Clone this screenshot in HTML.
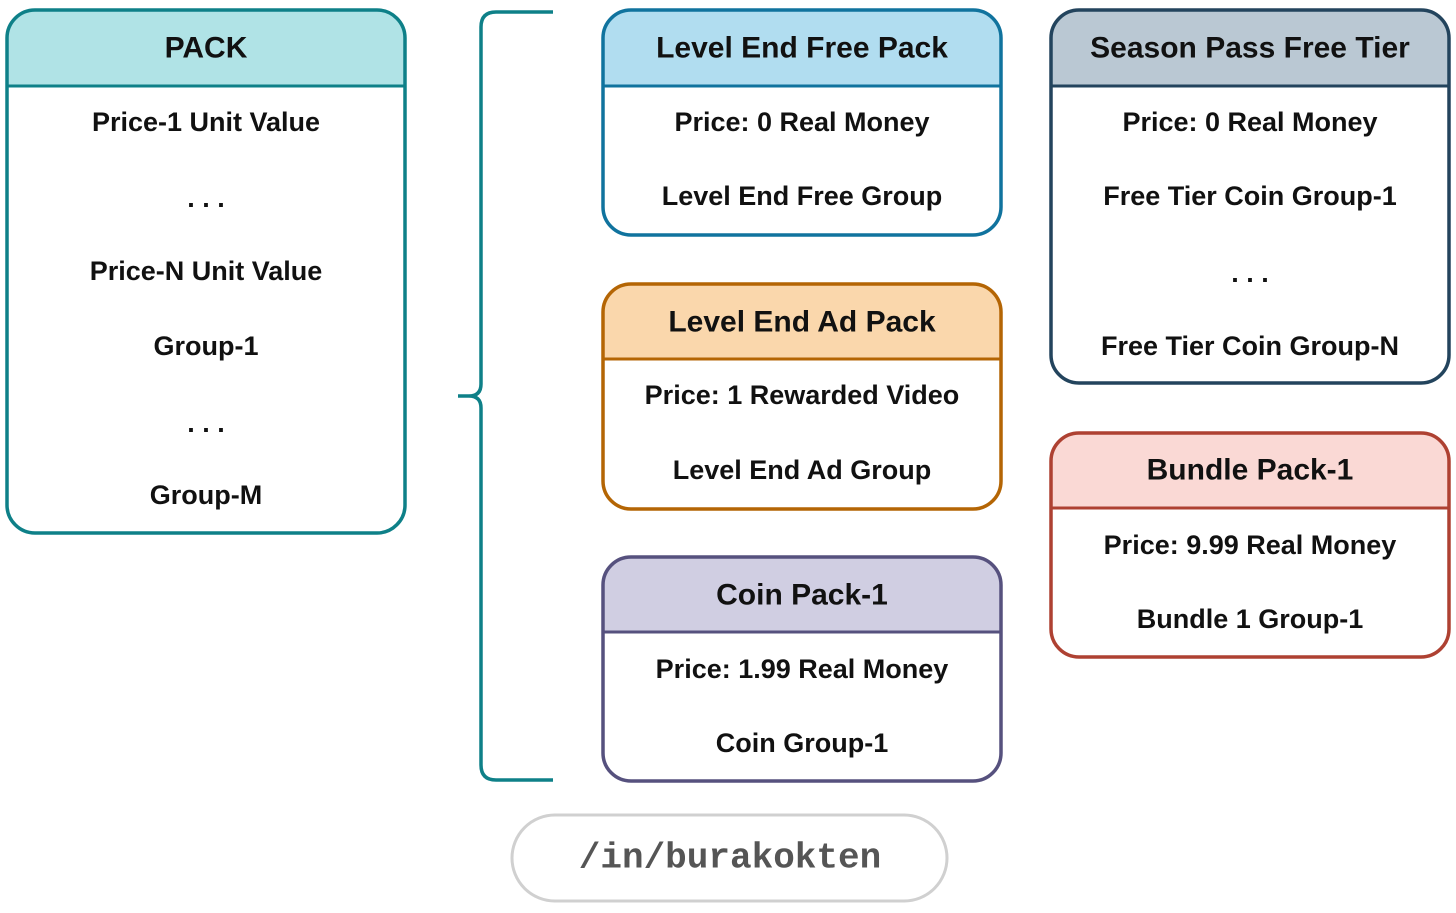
<!DOCTYPE html>
<html><head><meta charset="utf-8"><style>
html,body{margin:0;padding:0;background:#fff;}
svg text{font-family:"Liberation Sans",Arial,sans-serif;font-weight:bold;font-size:27px;fill:#111;text-anchor:middle;dominant-baseline:central;}
</style></head><body>
<svg width="1456" height="908" viewBox="0 0 1456 908" xmlns="http://www.w3.org/2000/svg">
<defs>
<clipPath id="c1"><rect x="7" y="10" width="398" height="523" rx="28"/></clipPath>
<clipPath id="c2"><rect x="603" y="10" width="398" height="225" rx="28"/></clipPath>
<clipPath id="c3"><rect x="603" y="284" width="398" height="225" rx="28"/></clipPath>
<clipPath id="c4"><rect x="603" y="557" width="398" height="224" rx="28"/></clipPath>
<clipPath id="c5"><rect x="1051" y="10" width="398" height="373" rx="28"/></clipPath>
<clipPath id="c6"><rect x="1051" y="433" width="398" height="224" rx="28"/></clipPath>
</defs>
<!-- PACK -->
<rect x="7" y="10" width="398" height="76" fill="#b0e3e6" clip-path="url(#c1)"/>
<line x1="7" y1="86" x2="405" y2="86" stroke="#0e8088" stroke-width="3"/>
<rect x="7" y="10" width="398" height="523" rx="28" fill="none" stroke="#0e8088" stroke-width="3.5"/>
<text x="206" y="48" style="font-size:30px">PACK</text>
<text x="206" y="122">Price-1 Unit Value</text>
<text x="206" y="198">. . .</text>
<text x="206" y="271">Price-N Unit Value</text>
<text x="206" y="346">Group-1</text>
<text x="206" y="423">. . .</text>
<text x="206" y="495">Group-M</text>
<!-- brace -->
<path d="M553 12 H496 Q481 12 481 27 V384 Q481 396 469 396 H458 M469 396 Q481 396 481 408 V765 Q481 780 496 780 H553" fill="none" stroke="#0e8088" stroke-width="3.5"/>
<!-- Level End Free -->
<rect x="603" y="10" width="398" height="76" fill="#b1ddf0" clip-path="url(#c2)"/>
<line x1="603" y1="86" x2="1001" y2="86" stroke="#10739e" stroke-width="3"/>
<rect x="603" y="10" width="398" height="225" rx="28" fill="none" stroke="#10739e" stroke-width="3.5"/>
<text x="802" y="48" style="font-size:30px">Level End Free Pack</text>
<text x="802" y="122">Price: 0 Real Money</text>
<text x="802" y="196">Level End Free Group</text>
<!-- Ad -->
<rect x="603" y="284" width="398" height="75" fill="#fad7ac" clip-path="url(#c3)"/>
<line x1="603" y1="359" x2="1001" y2="359" stroke="#b46504" stroke-width="3"/>
<rect x="603" y="284" width="398" height="225" rx="28" fill="none" stroke="#b46504" stroke-width="3.5"/>
<text x="802" y="322" style="font-size:30px">Level End Ad Pack</text>
<text x="802" y="395">Price: 1 Rewarded Video</text>
<text x="802" y="470">Level End Ad Group</text>
<!-- Coin -->
<rect x="603" y="557" width="398" height="75" fill="#d0cee2" clip-path="url(#c4)"/>
<line x1="603" y1="632" x2="1001" y2="632" stroke="#56517e" stroke-width="3"/>
<rect x="603" y="557" width="398" height="224" rx="28" fill="none" stroke="#56517e" stroke-width="3.5"/>
<text x="802" y="595" style="font-size:30px">Coin Pack-1</text>
<text x="802" y="669">Price: 1.99 Real Money</text>
<text x="802" y="743">Coin Group-1</text>
<!-- Season -->
<rect x="1051" y="10" width="398" height="76" fill="#bac8d3" clip-path="url(#c5)"/>
<line x1="1051" y1="86" x2="1449" y2="86" stroke="#23445d" stroke-width="3"/>
<rect x="1051" y="10" width="398" height="373" rx="28" fill="none" stroke="#23445d" stroke-width="3.5"/>
<text x="1250" y="48" style="font-size:30px">Season Pass Free Tier</text>
<text x="1250" y="122">Price: 0 Real Money</text>
<text x="1250" y="196">Free Tier Coin Group-1</text>
<text x="1250" y="273">. . .</text>
<text x="1250" y="346">Free Tier Coin Group-N</text>
<!-- Bundle -->
<rect x="1051" y="433" width="398" height="75" fill="#fad9d5" clip-path="url(#c6)"/>
<line x1="1051" y1="508" x2="1449" y2="508" stroke="#ae4132" stroke-width="3"/>
<rect x="1051" y="433" width="398" height="224" rx="28" fill="none" stroke="#ae4132" stroke-width="3.5"/>
<text x="1250" y="470" style="font-size:30px">Bundle Pack-1</text>
<text x="1250" y="545">Price: 9.99 Real Money</text>
<text x="1250" y="619">Bundle 1 Group-1</text>
<!-- footer -->
<rect x="512" y="815" width="435" height="86" rx="43" fill="#fff" stroke="#d0d0d0" stroke-width="3"/>
<text x="730" y="858" style="font-family:'Liberation Mono','DejaVu Sans Mono',monospace;font-size:36px;fill:#555">/in/burakokten</text>
</svg>
</body></html>
